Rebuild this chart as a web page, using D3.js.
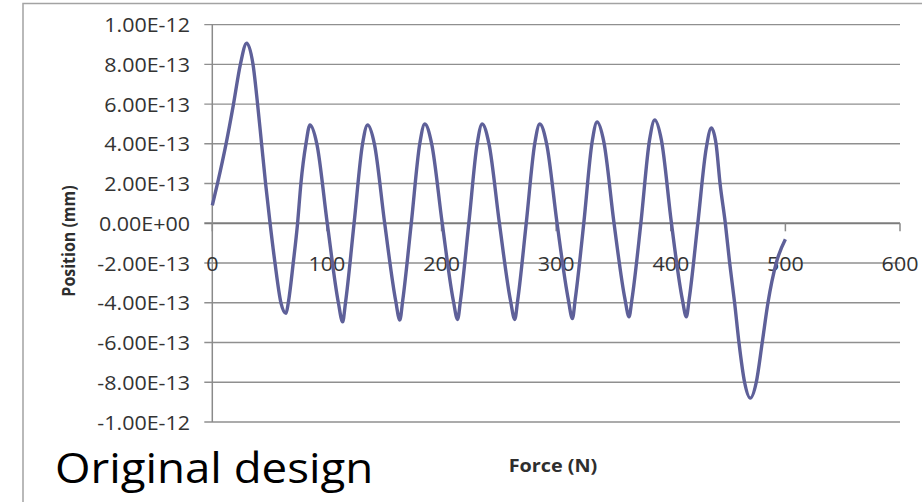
<!DOCTYPE html>
<html>
<head>
<meta charset="utf-8">
<script src="https://cdn.jsdelivr.net/npm/d3@7"></script>
<style>
    body { margin: 0; background: #fff; }
    svg { display: block; }
    .tick-label { font-family: "Open Sans", sans-serif; fill: #333; }
</style>
</head>
<body>
<div id="chart"></div>
<script>
// force (N) and position (in units of 1E-13 mm)
var force = [0, 4.5, 12, 18.5, 24.5, 30, 35.5, 39.5, 43, 46.5, 50.4, 54.7, 59.9, 64.3,
    66.3, 70.6, 74.4, 77.3, 81.7, 85.2, 91.2, 100.3, 110, 113.7, 116.2, 123.7, 131.1, 135.5,
    141.4, 150.4, 160, 163.6, 166.1, 173.6, 181, 185.4, 191.4, 200.6, 210.3, 214,
    216.5, 223.8, 231.1, 235.4, 241.4, 250.5, 260.2, 263.9, 266.4, 273.9, 281.3, 285.7,
    291.7, 300.8, 310.5, 314.2, 316.7, 324.1, 331.4, 335.7, 341.6, 350.5, 360, 363.6,
    366.2, 373.9, 381.5, 386, 391.8, 400.6, 410, 413.6, 416.1, 423.6, 431, 435.4,
    439.5, 443, 447.6, 451.4, 455.7, 459.5, 464.4, 469.4, 474.6, 479.8, 484.8, 492, 500];
var positionE13 = [0.9, 2.0, 4.0, 6.0, 8.0, 9.07, 8.0, 6.0, 4.0, 2.0, 0, -2.0, -4.0, -4.53,
    -4.0, -2.0, 0, 2.0, 4.0, 4.95, 4.0, 0, -4.0, -4.96, -4.0, 0, 4.0, 4.95,
    4.0, 0, -3.9, -4.87, -3.9, 0, 4.0, 5.0, 4.0, 0, -3.9, -4.84,
    -3.9, 0, 4.0, 5.0, 4.0, 0, -3.9, -4.84, -3.9, 0, 4.0, 5.0,
    4.0, 0, -3.8, -4.79, -3.8, 0, 4.1, 5.1, 4.1, 0, -3.8, -4.7,
    -3.8, 0, 4.2, 5.2, 4.2, 0, -3.8, -4.7, -3.8, 0, 3.8, 4.8,
    4.0, 2.0, 0, -2.0, -4.0, -6.0, -8.0, -8.8, -8.0, -6.0, -4.0, -2.0, -0.8];

var xTicks = [0, 100, 200, 300, 400, 500, 600];
var yTicks = [-1e-12, -8e-13, -6e-13, -4e-13, -2e-13, 0, 2e-13, 4e-13, 6e-13, 8e-13, 1e-12];
var yTickLabels = ["-1.00E-12", "-8.00E-13", "-6.00E-13", "-4.00E-13", "-2.00E-13", "0.00E+00",
    "2.00E-13", "4.00E-13", "6.00E-13", "8.00E-13", "1.00E-12"];

var width = 922, height = 502;
var stretch = 1.1; // text in the picture is a bit wider than normal

var data = force.map(function(f, i) { return {x: f, y: positionE13[i] * 1e-13}; });

var svg = d3.select("#chart").append("svg")
    .attr("width", width)
    .attr("height", height);

var x = d3.scaleLinear().domain([0, 600]).range([212.3, 900]);
var y = d3.scaleLinear().domain([-1e-12, 1e-12]).range([422, 24.6]);

// outer frame (only left and top are in the picture)
svg.append("path")
    .attr("d", "M23,502 V3.5 H922")
    .attr("fill", "none")
    .attr("stroke", "#a3a3a3")
    .attr("stroke-width", 1.5);

// gridlines
svg.append("g")
    .selectAll("line")
    .data(yTicks)
    .enter()
    .append("line")
    .attr("x1", x(0) - 8)
    .attr("x2", x(600))
    .attr("y1", function(d) { return y(d); })
    .attr("y2", function(d) { return y(d); })
    .attr("stroke", function(d) { return d === 0 ? "#7c7c7c" : "#8f8f8f"; })
    .attr("stroke-width", function(d) { return d === 0 ? 2 : 1.4; });

// y axis line
svg.append("line")
    .attr("x1", x(0)).attr("x2", x(0))
    .attr("y1", y(1e-12)).attr("y2", y(-1e-12))
    .attr("stroke", "#8a8a8a")
    .attr("stroke-width", 1.5);

// x ticks on the zero line
svg.append("g")
    .selectAll("line")
    .data(xTicks)
    .enter()
    .append("line")
    .attr("x1", function(d) { return x(d); })
    .attr("x2", function(d) { return x(d); })
    .attr("y1", y(0))
    .attr("y2", y(0) + 8)
    .attr("stroke", "#8a8a8a")
    .attr("stroke-width", 1.5);

// y tick labels
svg.append("g")
    .selectAll("text")
    .data(yTicks)
    .enter()
    .append("text")
    .attr("class", "tick-label")
    .attr("text-anchor", "end")
    .style("font-size", "19.5px")
    .attr("transform", function(d) { return "translate(190," + (y(d) + 7.5) + ") scale(" + stretch + ",1)"; })
    .text(function(d, i) { return yTickLabels[i]; });

// x tick labels (sit lower than the axis, on the -2E-13 line)
svg.append("g")
    .selectAll("text")
    .data(xTicks)
    .enter()
    .append("text")
    .attr("class", "tick-label")
    .attr("text-anchor", "middle")
    .style("font-size", "19.5px")
    .attr("transform", function(d) { return "translate(" + x(d) + "," + (y(-2e-13) + 7.5) + ") scale(" + stretch + ",1)"; })
    .text(function(d) { return d; });

// the series
var line = d3.line()
    .x(function(d) { return x(d.x); })
    .y(function(d) { return y(d.y); })
    .curve(d3.curveMonotoneX);

svg.append("path")
    .datum(data)
    .attr("d", line)
    .attr("fill", "none")
    .attr("stroke", "#5e6099")
    .attr("stroke-width", 3.4)
    .attr("stroke-linejoin", "round");

// axis titles
svg.append("text")
    .attr("transform", "translate(75,241) rotate(-90) scale(1," + stretch + ")")
    .attr("text-anchor", "middle")
    .style("font-family", "'Open Sans', sans-serif")
    .style("font-weight", "bold")
    .style("font-size", "16px")
    .style("fill", "#2e2e2e")
    .text("Position (mm)");

svg.append("text")
    .attr("transform", "translate(553,472) scale(" + stretch + ",1)")
    .attr("text-anchor", "middle")
    .style("font-family", "'Open Sans', sans-serif")
    .style("font-weight", "bold")
    .style("font-size", "18px")
    .style("fill", "#2e2e2e")
    .text("Force (N)");

svg.append("text")
    .attr("transform", "translate(55,483) scale(" + stretch + ",1)")
    .style("font-family", "'Open Sans', sans-serif")
    .style("font-size", "41.5px")
    .style("fill", "#000")
    .text("Original design");
</script>
</body>
</html>
